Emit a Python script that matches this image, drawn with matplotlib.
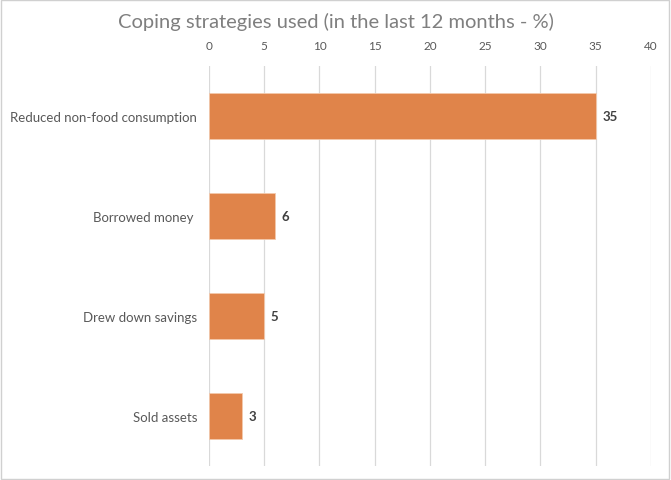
import matplotlib.pyplot as plt
from matplotlib.patches import Rectangle

# --- chart data ---
categories = ["Reduced non-food consumption", "Borrowed money ", "Drew down savings", "Sold assets"]
values = [35, 6, 5, 3]
x_ticks = [0, 5, 10, 15, 20, 25, 30, 35, 40]

BAR_COLOR = "#E0844A"
GRID_COLOR = "#D9D9D9"
TEXT_COLOR = "#595959"

plt.rcParams["font.family"] = ["Lato", "DejaVu Sans"]

fig = plt.figure(figsize=(6.71, 4.81), dpi=100)
ax = fig.add_axes([0.3115, 0.029, 0.6585, 0.832])

y = list(range(len(categories)))
ax.barh(y, values, height=0.46, color=BAR_COLOR, edgecolor="#F3C9AC", linewidth=0.6, zorder=3)
for yi, v in zip(y, values):
    ax.text(v + 0.6, yi, f"{v}", va="center", ha="left", fontsize=9.5,
            fontweight="bold", color="#404040")

ax.set_xlim(0, 40)
ax.set_ylim(len(categories) - 0.5, -0.5)
ax.set_xticks(x_ticks)
ax.set_yticks(y)
ax.set_yticklabels(categories)
ax.xaxis.tick_top()
ax.tick_params(axis="x", length=0, pad=10.5, labelsize=8.5, labelcolor=TEXT_COLOR)
ax.tick_params(axis="y", length=0, pad=8.5, labelsize=9.5, labelcolor=TEXT_COLOR)
ax.grid(axis="x", color=GRID_COLOR, linewidth=0.9, zorder=0)
for s in ax.spines.values():
    s.set_visible(False)

fig.text(0.50, 0.955, "Coping strategies used (in the last 12 months - %)",
         ha="center", va="center", fontsize=14.5, color="#7F7F7F")

# light frame around the chart
fig.patches.append(Rectangle((0.0015, 0.003), 0.995, 0.994, transform=fig.transFigure,
                             fill=False, edgecolor="#D0D0D0", linewidth=1.0))

fig.savefig("out.png", dpi=100)
